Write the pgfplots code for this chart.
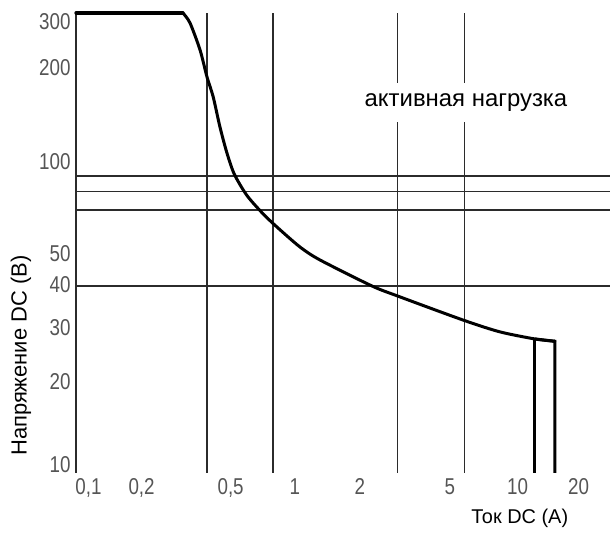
\documentclass[border=0pt]{standalone}
\usepackage{pgfplots}
\pgfplotsset{compat=1.18}
\usepackage{fontspec}
\setmainfont{Liberation Sans}
\newfontfamily\tickfont[FakeStretch=0.82]{Liberation Sans}
\definecolor{gridc}{HTML}{2b2b2b}
\definecolor{tickc}{HTML}{555555}
\begin{document}
\begin{tikzpicture}
\useasboundingbox (-76bp,-60bp) rectangle (534bp,473bp);
\begin{axis}[
  at={(0,0)}, anchor=south west,
  scale only axis, width=534bp, height=460bp,
  xmode=log, ymode=log,
  xmin=0.0945, xmax=27.8, ymin=9.41, ymax=310,
  axis x line*=bottom, axis y line*=left,
  x axis line style={draw=none},
  y axis line style={gridc, line width=1.5bp},
  major tick length=0pt, minor tick length=0pt,
  minor xtick={}, minor ytick={},
  xtick={0.108,0.19,0.49,0.97,1.94,5.06,10.4,19.9},
  xticklabels={{0,1},{0,2},{0,5},1,2,5,10,20},
  ytick={10,18.8,28.5,39.3,50,100,204,290},
  yticklabels={10,20,30,40,50,100,200,300},
  ticklabel style={font=\tickfont\fontsize{23}{23}\selectfont, text=tickc},
  yticklabel style={xshift=-2bp},
  xticklabel style={yshift=-2bp},
  /pgf/number format/assume math mode=true,
  clip=false,
  xlabel={Ток DC (A)},
  xlabel style={at={(axis description cs:0.831,-0.098)}, anchor=center, font=\fontsize{20}{20}\selectfont},
  ylabel={Напряжение DC (В)},
  ylabel style={at={(axis description cs:-0.103,0.255)}, anchor=center, rotate=0, font=\fontsize{22}{22}\selectfont},
]
% horizontal lines
\addplot[gridc, line width=1.5bp] coordinates {(0.0945,90) (27.8,90)};
\addplot[gridc, line width=1.5bp] coordinates {(0.0945,80) (27.8,80)};
\addplot[gridc, line width=1.5bp] coordinates {(0.0945,69.5) (27.8,69.5)};
\addplot[gridc, line width=1.5bp] coordinates {(0.0945,39) (27.8,39)};
% vertical lines
\addplot[gridc, line width=1.5bp] coordinates {(0.381,9.41) (0.381,310)};
\addplot[gridc, line width=1.5bp] coordinates {(0.769,9.41) (0.769,310)};
\addplot[gridc, line width=1.5bp] coordinates {(2.90,9.41) (2.90,310)};
\addplot[gridc, line width=1.5bp] coordinates {(5.92,9.41) (5.92,310)};
% curve
\addplot[black, line width=3.2bp, line cap=round] coordinates {(0.0945,310) (0.295,310)};
\addplot[black, line width=3bp, smooth, tension=0.45, line cap=round] coordinates {
(0.295,310) (0.318,287.5) (0.354,234) (0.381,190.8) (0.407,164)
(0.437,130.8) (0.471,107.1) (0.51,91.0) (0.583,77.5) (0.691,67.5) (0.802,61.0)
(1.025,52.4) (1.267,47.5) (2.20,39.0) (2.90,36.1) (5.80,30.1) (8.60,27.5)
(12.5,26.05) (15.45,25.6)};
\addplot[black, line width=3bp, line join=miter] coordinates {(12.5,26.05) (15.45,25.6) (15.45,9.41)};
\addplot[black, line width=3bp] coordinates {(12.5,26.05) (12.5,9.41)};
\node[fill=white, inner xsep=3bp, minimum height=39bp, font=\fontsize{24}{24}\selectfont] at (axis cs:6.0,157) {активная нагрузка};
\end{axis}
\end{tikzpicture}
\end{document}
